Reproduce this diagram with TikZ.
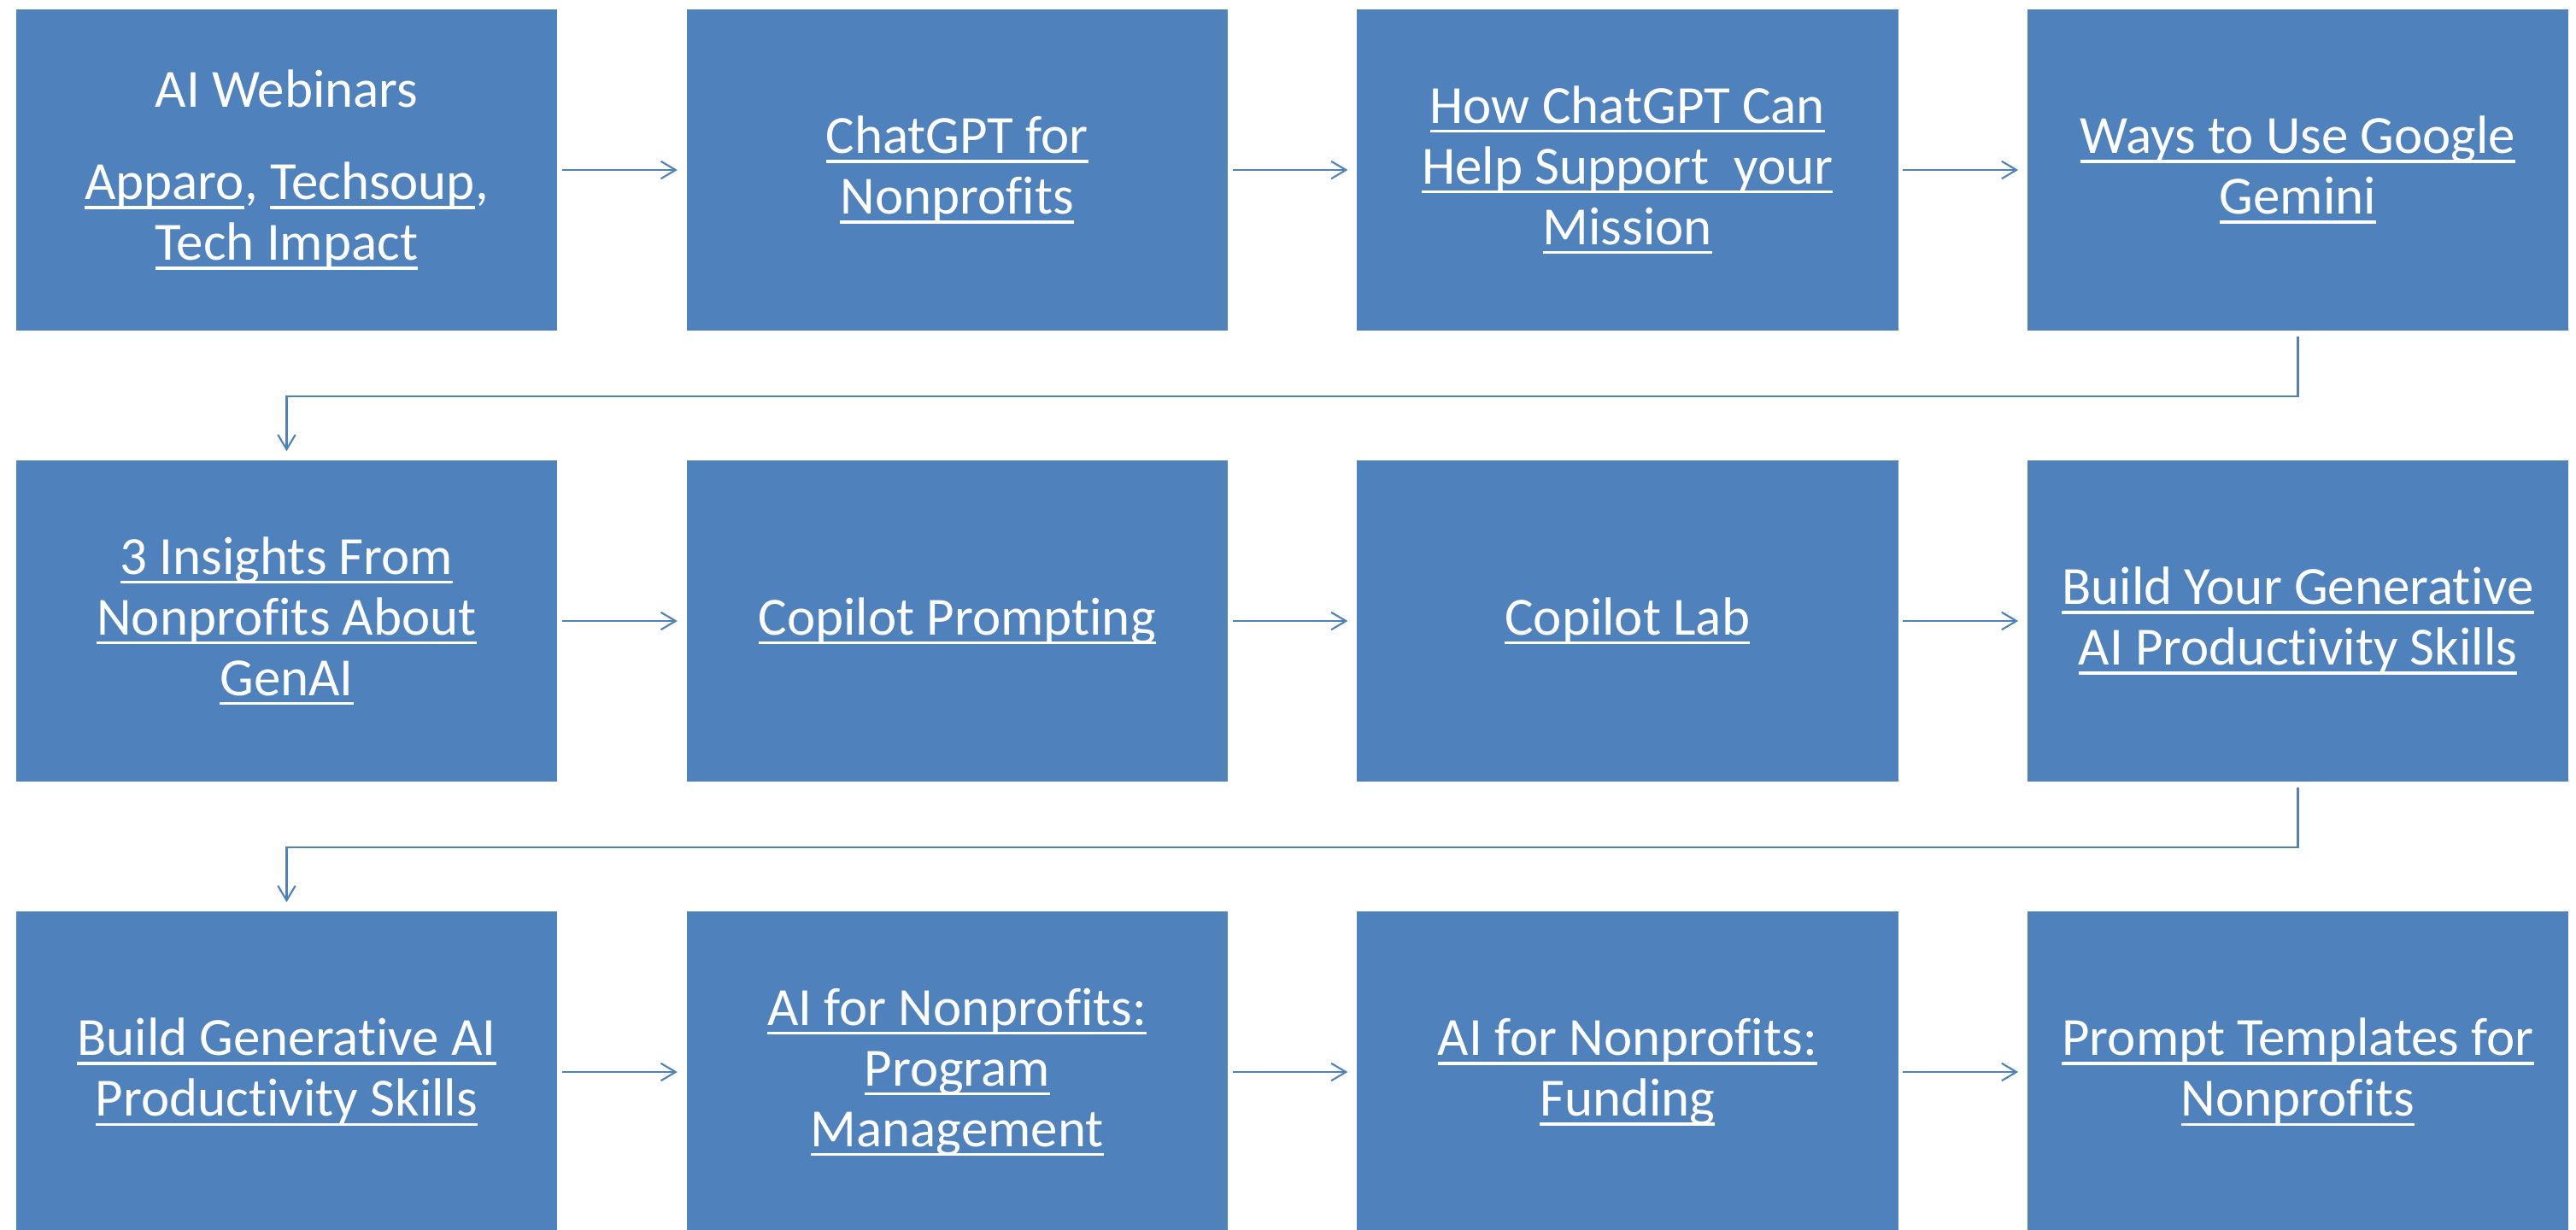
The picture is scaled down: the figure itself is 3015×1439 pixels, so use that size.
\documentclass[tikz,border=0pt]{standalone}
\usepackage{fontspec}
\setmainfont{Carlito}[Ligatures=NoCommon]
\usetikzlibrary{arrows.meta}
\definecolor{boxblue}{HTML}{4F81BD}
\newcommand\lk[1]{\setbox0\hbox{#1}\rlap{\rule[-3.1pt]{\wd0}{0.95pt}}\box0}
\tikzset{
  stepbox/.style={rectangle, fill=boxblue, draw=none, inner sep=0pt,
    minimum width=6.33cm, minimum height=3.76cm, text=white, align=center,
    font=\fontsize{17.9pt}{20.2pt}\selectfont},
  conn/.style={draw=boxblue, line width=0.6pt,
    -{Straight Barb[length=4.9pt,width=5.8pt,line width=0.6pt]},
    shorten <=0.05cm, shorten >=0.1cm}
}
\begin{document}
\begin{tikzpicture}[x=0.01cm,y=-0.01cm]
\useasboundingbox (0,0) rectangle (3015,1439);
% row 1
\node[stepbox] (b1) at (335.5,199) {AI Webinars\\[10.5pt]\lk{Apparo}, \lk{Techsoup},\\\lk{Tech Impact}};
\node[stepbox] (b2) at (1120.2,199) {\lk{ChatGPT for}\\\lk{Nonprofits}};
\node[stepbox] (b3) at (1904.8,199) {\lk{How ChatGPT Can}\\\lk{Help Support\ \ your}\\\lk{Mission}};
\node[stepbox] (b4) at (2689.5,199) {\lk{Ways to Use Google}\\\lk{Gemini}};
% row 2
\node[stepbox] (b5) at (335.5,727) {\lk{3 Insights From}\\\lk{Nonprofits About}\\\lk{GenAI}};
\node[stepbox] (b6) at (1120.2,727) {\lk{Copilot Prompting}};
\node[stepbox] (b7) at (1904.8,727) {\lk{Copilot Lab}};
\node[stepbox] (b8) at (2689.5,727) {\lk{Build Your Generative}\\\lk{AI Productivity Skills}};
% row 3
\node[stepbox] (b9) at (335.5,1255) {\lk{Build Generative AI}\\\lk{Productivity Skills}};
\node[stepbox] (b10) at (1120.2,1255) {\lk{AI for Nonprofits:}\\\lk{Program}\\\lk{Management}};
\node[stepbox] (b11) at (1904.8,1255) {\lk{AI for Nonprofits:}\\\lk{Funding}};
\node[stepbox] (b12) at (2689.5,1255) {\lk{Prompt Templates for}\\\lk{Nonprofits}};
% connectors
\draw[conn] (b1) -- (b2);
\draw[conn] (b2) -- (b3);
\draw[conn] (b3) -- (b4);
\draw[conn, shorten <=0.06cm] (b4.south) -- ++(0,76) -| (b5.north);
\draw[conn] (b5) -- (b6);
\draw[conn] (b6) -- (b7);
\draw[conn] (b7) -- (b8);
\draw[conn, shorten <=0.06cm] (b8.south) -- ++(0,76) -| (b9.north);
\draw[conn] (b9) -- (b10);
\draw[conn] (b10) -- (b11);
\draw[conn] (b11) -- (b12);
\end{tikzpicture}
\end{document}
